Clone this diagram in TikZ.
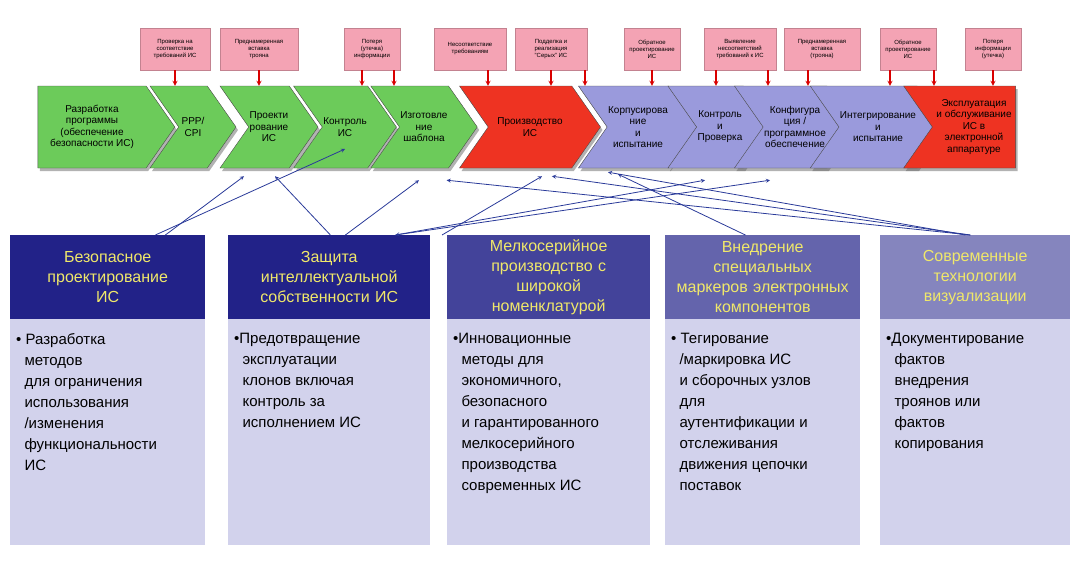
\documentclass[tikz,border=0pt]{standalone}
\usepackage{fontspec}
\setmainfont{Liberation Sans}
\usetikzlibrary{shapes.symbols, arrows, positioning, shadows, calc}
\definecolor{chgreen}{HTML}{6CCB5A}
\definecolor{chred}{HTML}{EE3322}
\definecolor{chlilac}{HTML}{9A9ADC}
\definecolor{pinkbox}{HTML}{F4A3B4}
\definecolor{navy}{HTML}{222288}
\definecolor{bodylilac}{HTML}{D2D2EC}
\definecolor{titleyel}{HTML}{F0E86A}
\definecolor{linkblue}{HTML}{2A3A99}
\tikzstyle{stage} = [signal, signal to=east, signal from=west, signal pointer angle=110, minimum height=82pt, inner sep=1pt, draw=black!70, text centered, align=center, font=\fontsize{10}{11.5}\selectfont, drop shadow={shadow xshift=2pt, shadow yshift=-3pt, fill=black!60}]
\tikzstyle{threat} = [rectangle, fill=pinkbox, draw=pinkbox!80!black, minimum height=42pt, text centered, align=center, font=\fontsize{6}{7}\selectfont, drop shadow={shadow xshift=1pt, shadow yshift=-1pt, fill=black!25}]
\tikzstyle{redarrow} = [very thick, red!85!black, ->, >=stealth]
\tikzstyle{link} = [thick, linkblue, ->, >=stealth]
\tikzstyle{head} = [rectangle, fill=navy, minimum height=84pt, text=titleyel, text centered, align=center, font=\fontsize{16}{20}\selectfont, anchor=north west, inner sep=2pt]
\tikzstyle{body} = [rectangle, anchor=north west, align=left, font=\fontsize{15}{21}\selectfont, inner sep=6pt, yshift=-8pt]

\begin{document}
\begin{tikzpicture}[x=1pt, y=-1pt]
    \useasboundingbox (0,0) rectangle (1077,560);
    % Chevron stages
    \node[stage, fill=chgreen, signal from=nowhere, minimum width=137pt] (razr) at (92,127) {Разработка\\программы\\(обеспечение\\безопасности ИС)};
    \node[stage, fill=chgreen, minimum width=86pt] (ppp) at (193,127) {PPP/\\CPI};
    \node[stage, fill=chgreen, minimum width=89pt] (proekt) at (269,127) {Проекти\\рование\\ИС};
    \node[stage, fill=chgreen, minimum width=85pt] (kontrol) at (345,127) {Контроль\\ИС};
    \node[stage, fill=chgreen, minimum width=94pt] (izgot) at (424,127) {Изготовле\\ние\\шаблона};
    \node[stage, fill=chred, minimum width=141pt] (proizv) at (530,127) {Производство\\ИС};
    \node[stage, fill=chlilac, minimum width=96pt] (korpus) at (638,127) {Корпусирова\\ние\\и\\испытание};
    \node[stage, fill=chlilac, minimum width=91pt] (proverka) at (720,127) {Контроль\\и\\Проверка};
    \node[stage, fill=chlilac, minimum width=81pt] (konfig) at (795,127) {Конфигура\\ция /\\программное\\обеспечение};
    \node[stage, fill=chlilac, minimum width=106pt] (integr) at (878,127) {Интегрирование\\и\\испытание};
    \node[stage, fill=chred, signal to=nowhere, minimum width=112pt] (ekspl) at (974,127) {Эксплуатация\\и обслуживание\\ИС в\\электронной\\аппаратуре};

    % Threats
    \node[threat, minimum width=70pt] (t1) at (175,49) {Проверка на\\соответствие\\требований ИС};
    \node[threat, minimum width=78pt] (t2) at (259,49) {Преднамеренная\\вставка\\трояна};
    \node[threat, minimum width=56pt] (t3) at (372,49) {Потеря\\(утечка)\\информации};
    \node[threat, minimum width=72pt] (t4) at (470,49) {Несоответствие\\требованиям};
    \node[threat, minimum width=72pt] (t5) at (551,49) {Подделка и\\реализация\\"Серых" ИС};
    \node[threat, minimum width=56pt] (t6) at (652,49) {Обратное\\проектирование\\ИС};
    \node[threat, minimum width=72pt] (t7) at (740,49) {Выявление\\несоответствий\\требований к ИС};
    \node[threat, minimum width=76pt] (t8) at (822,49) {Преднамеренная\\вставка\\(трояна)};
    \node[threat, minimum width=56pt] (t9) at (908,49) {Обратное\\проектирование\\ИС};
    \node[threat, minimum width=56pt] (t10) at (993,49) {Потеря\\информации\\(утечка)};

    % Threat arrows
    \draw[redarrow] (t1.south) -- (t1.south |- ppp.north);
    \draw[redarrow] (t2.south) -- (t2.south |- proekt.north);
    \draw[redarrow] ([xshift=-10pt]t3.south) -- ([xshift=-10pt]t3.south |- kontrol.north);
    \draw[redarrow] ([xshift=22pt]t3.south) -- ([xshift=22pt]t3.south |- izgot.north);
    \draw[redarrow] ([xshift=18pt]t4.south) -- ([xshift=18pt]t4.south |- proizv.north);
    \draw[redarrow] (t5.south) -- (t5.south |- proizv.north);
    \draw[redarrow] ([xshift=34pt]t5.south) -- ([xshift=34pt]t5.south |- korpus.north);
    \draw[redarrow] (t6.south) -- (t6.south |- korpus.north);
    \draw[redarrow] ([xshift=-24pt]t7.south) -- ([xshift=-24pt]t7.south |- proverka.north);
    \draw[redarrow] ([xshift=28pt]t7.south) -- ([xshift=28pt]t7.south |- konfig.north);
    \draw[redarrow] ([xshift=-14pt]t8.south) -- ([xshift=-14pt]t8.south |- konfig.north);
    \draw[redarrow] ([xshift=-18pt]t9.south) -- ([xshift=-18pt]t9.south |- integr.north);
    \draw[redarrow] ([xshift=26pt]t9.south) -- ([xshift=26pt]t9.south |- ekspl.north);
    \draw[redarrow] (t10.south) -- (t10.south |- ekspl.north);

    % Directions
    \fill[bodylilac] (10,319) rectangle (205,545);
    \fill[bodylilac] (228,319) rectangle (430,545);
    \fill[bodylilac] (447,319) rectangle (650,545);
    \fill[bodylilac] (665,319) rectangle (860,545);
    \fill[bodylilac] (880,319) rectangle (1070,545);
    \node[head, minimum width=195pt, text width=185pt] (h1) at (10,235) {Безопасное\\проектирование\\ИС};
    \node[body] (b1) at (10,319) {• Разработка\\\ \ методов\\\ \ для ограничения\\\ \ использования\\\ \ /изменения\\\ \ функциональности\\\ \ ИС};
    \node[head, minimum width=202pt, text width=192pt] (h2) at (228,235) {Защита\\интеллектуальной\\собственности ИС};
    \node[body] (b2) at (228,319) {•Предотвращение\\\ \ эксплуатации\\\ \ клонов включая\\\ \ контроль за\\\ \ исполнением ИС};
    \node[head, fill=navy!85!white, minimum width=203pt, text width=195pt] (h3) at (447,235) {Мелкосерийное\\производство с\\широкой\\номенклатурой};
    \node[body] (b3) at (447,319) {•Инновационные\\\ \ методы для\\\ \ экономичного,\\\ \ безопасного\\\ \ и гарантированного\\\ \ мелкосерийного\\\ \ производства\\\ \ современных ИС};
    \node[head, fill=navy!70!white, minimum width=195pt, text width=190pt] (h4) at (665,235) {Внедрение\\специальных\\маркеров электронных\\компонентов};
    \node[body] (b4) at (665,319) {• Тегирование\\\ \ /маркировка ИС\\\ \ и сборочных узлов\\\ \ для\\\ \ аутентификации и\\\ \ отслеживания\\\ \ движения цепочки\\\ \ поставок};
    \node[head, fill=navy!55!white, minimum width=190pt, text width=182pt] (h5) at (880,235) {Современные\\технологии\\визуализации};
    \node[body] (b5) at (880,319) {•Документирование\\\ \ фактов\\\ \ внедрения\\\ \ троянов или\\\ \ фактов\\\ \ копирования};

    % Links to stages
    \draw[link] ([xshift=-40pt]h1.north east) -- ([xshift=-25pt,yshift=-8pt]proekt.south);
    \draw[link] ([xshift=-50pt]h1.north east) -- ([yshift=-22pt]kontrol.center);
    \draw[link] ([xshift=-100pt]h2.north east) -- ([xshift=6pt,yshift=-8pt]proekt.south);
    \draw[link] ([xshift=-85pt]h2.north east) -- ([xshift=-5pt,yshift=-12pt]izgot.south);
    \draw[link, <->] ([xshift=-35pt]h2.north east) -- ([xshift=-15pt,yshift=-12pt]proverka.south);
    \draw[link] ([xshift=-35pt]h2.north east) -- ([xshift=-25pt,yshift=-12pt]konfig.south);
    \draw[link] ([xshift=-5pt]h3.north west) -- ([xshift=12pt,yshift=-8pt]proizv.south);
    \draw[link] ([xshift=-115pt]h4.north east) -- ([xshift=-20pt,yshift=-6pt]korpus.south);
    \draw[link] ([xshift=-100pt]h5.north east) -- ([xshift=-2pt,yshift=-12pt]izgot.south east);
    \draw[link] ([xshift=-100pt]h5.north east) -- ([xshift=-20pt,yshift=-8pt]proizv.south east);
    \draw[link] ([xshift=-105pt]h5.north east) -- ([xshift=-30pt,yshift=-4pt]korpus.south);

\end{tikzpicture}
\end{document}
